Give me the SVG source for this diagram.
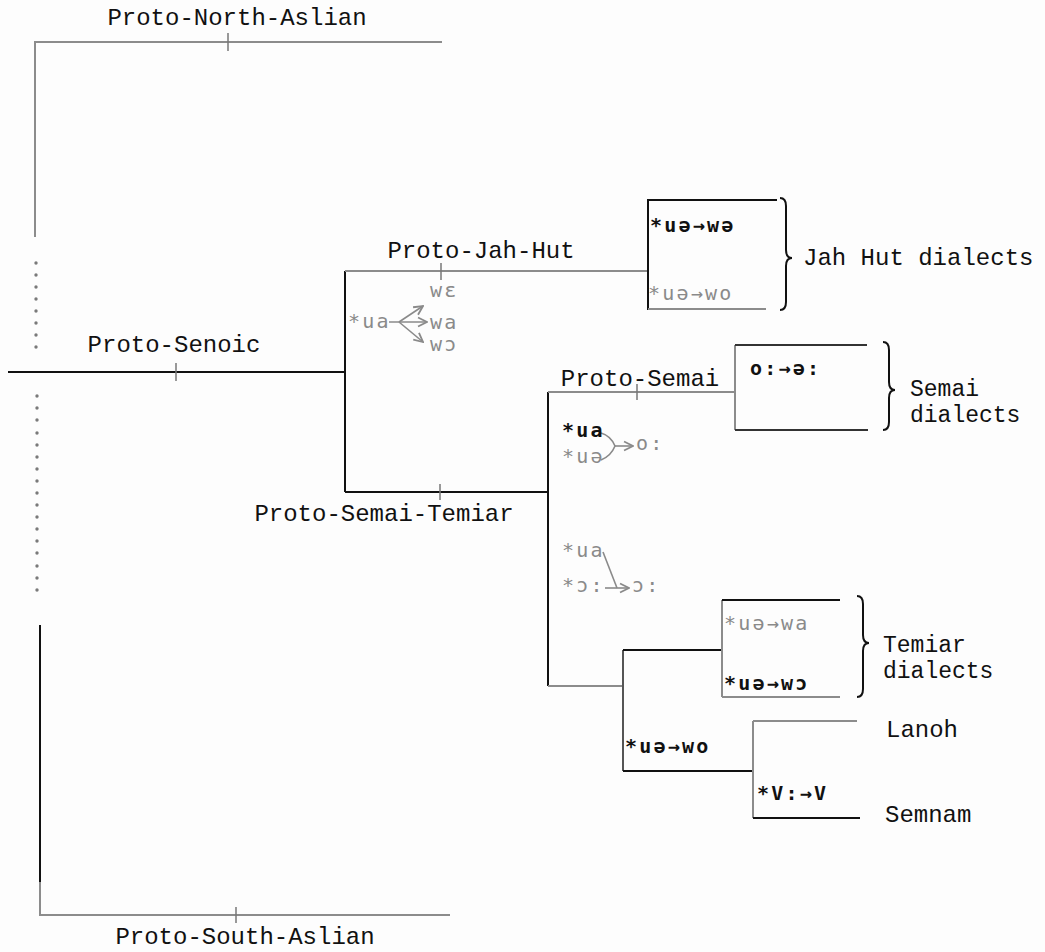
<svg xmlns="http://www.w3.org/2000/svg" width="1045" height="952" viewBox="0 0 1045 952">
<defs>
<style>
.lab{font-family:"Liberation Mono","Courier New",monospace;font-size:24px;fill:#111}
.lab2{font-family:"Liberation Mono","Courier New",monospace;font-size:23px;fill:#111}
.snd{font-family:"DejaVu Sans Mono","Liberation Mono",monospace;font-size:20px;letter-spacing:2.2px}
.b{fill:#111;font-weight:bold}
.g{fill:#8a8a8a}
.lk{stroke:#111;stroke-width:2;fill:none}
.lg{stroke:#8c8c8c;stroke-width:2;fill:none}
.tick{stroke:#777;stroke-width:1.5}
.dot{fill:#7a7a7a}
</style>
<marker id="ah" viewBox="0 0 10 10" refX="9" refY="5" markerWidth="7" markerHeight="7" orient="auto-start-reverse">
<path d="M1,1 L9,5 L1,9" fill="none" stroke="#8a8a8a" stroke-width="1.6"/>
</marker>
</defs>
<rect width="1045" height="952" fill="#fdfdfd"/>

<g id="connectors">
<path class="lg" d="M35,237 V42 H442"/>
<line class="tick" x1="228" y1="33" x2="228" y2="51"/>
<line class="lk" x1="8" y1="372" x2="345" y2="372"/>
<line class="tick" x1="176" y1="363" x2="176" y2="381"/>
<line class="lk" x1="40" y1="625" x2="40" y2="882"/>
<path class="lg" d="M40,882 V915 H450"/>
<line class="tick" x1="236" y1="907" x2="236" y2="923"/>
<line class="lk" x1="345" y1="271" x2="345" y2="492"/>
<line class="lg" x1="345" y1="271" x2="648" y2="271"/>
<line class="tick" x1="441" y1="263" x2="441" y2="280"/>
<line class="lk" x1="345" y1="492" x2="548" y2="492"/>
<line class="tick" x1="440" y1="484" x2="440" y2="500"/>
<path class="lk" d="M777,200 H648 V310"/>
<line class="lg" x1="648" y1="309" x2="766" y2="309"/>
<line class="lk" x1="548" y1="392" x2="548" y2="686"/>
<line class="lg" x1="548" y1="392" x2="735" y2="392"/>
<line class="tick" x1="637" y1="384" x2="637" y2="400"/>
<line class="lg" x1="735" y1="345" x2="735" y2="430"/>
<line class="lk" x1="735" y1="345" x2="867" y2="345" style="stroke:#333"/>
<line class="lk" x1="735" y1="430" x2="868" y2="430" style="stroke:#333"/>
<line class="lg" x1="548" y1="686" x2="623" y2="686"/>
<line class="lk" x1="623" y1="650" x2="623" y2="771" style="stroke:#555"/>
<line class="lk" x1="623" y1="650" x2="722" y2="650"/>
<line class="lg" x1="722" y1="600" x2="722" y2="697"/>
<line class="lk" x1="722" y1="600" x2="840" y2="600"/>
<line class="lg" x1="722" y1="697" x2="840" y2="697"/>
<line class="lk" x1="623" y1="771" x2="753" y2="771"/>
<line class="lg" x1="753" y1="721" x2="753" y2="818"/>
<line class="lg" x1="753" y1="721" x2="857" y2="721"/>
<line class="lk" x1="753" y1="818" x2="860" y2="818"/>
<path class="lk" stroke-width="1.8" d="M780,198 Q786,198 786,206 V250 Q786,258 792,258 Q786,258 786,266 V302 Q786,310 780,310"/>
<path class="lk" stroke-width="1.8" d="M883,342 Q889,342 889,350 V382 Q889,390 895,390 Q889,390 889,398 V422 Q889,430 883,430"/>
<path class="lk" stroke-width="1.8" d="M857,596 Q863,596 863,604 V635 Q863,643 869,643 Q863,643 863,651 V689 Q863,697 857,697"/>
<g stroke="#8a8a8a" stroke-width="1.6" fill="none">
<line x1="389" y1="322" x2="427" y2="322" marker-end="url(#ah)"/>
<line x1="399" y1="322" x2="423" y2="306" marker-end="url(#ah)"/>
<line x1="399" y1="322" x2="423" y2="342" marker-end="url(#ah)"/>
<path d="M601,433 Q611,436 615,446 Q611,456 601,460"/>
<line x1="615" y1="446" x2="633" y2="446" marker-end="url(#ah)"/>
<line x1="603" y1="552" x2="617" y2="588"/>
<line x1="605" y1="588" x2="629" y2="588" marker-end="url(#ah)"/>
</g>
</g>

<g id="dots">
<circle class="dot" cx="36" cy="263" r="1.7"/><circle class="dot" cx="36" cy="275" r="1.7"/><circle class="dot" cx="36" cy="287" r="1.7"/><circle class="dot" cx="36" cy="299" r="1.7"/><circle class="dot" cx="36" cy="311" r="1.7"/><circle class="dot" cx="36" cy="323" r="1.7"/><circle class="dot" cx="36" cy="335" r="1.7"/><circle class="dot" cx="36" cy="347" r="1.7"/>
<circle class="dot" cx="37" cy="396" r="1.7"/><circle class="dot" cx="37" cy="408" r="1.7"/><circle class="dot" cx="37" cy="420" r="1.7"/><circle class="dot" cx="37" cy="433" r="1.7"/><circle class="dot" cx="37" cy="445" r="1.7"/><circle class="dot" cx="37" cy="457" r="1.7"/><circle class="dot" cx="37" cy="469" r="1.7"/><circle class="dot" cx="37" cy="481" r="1.7"/><circle class="dot" cx="37" cy="493" r="1.7"/><circle class="dot" cx="37" cy="505" r="1.7"/><circle class="dot" cx="37" cy="517" r="1.7"/><circle class="dot" cx="37" cy="529" r="1.7"/><circle class="dot" cx="37" cy="541" r="1.7"/><circle class="dot" cx="37" cy="553" r="1.7"/><circle class="dot" cx="37" cy="566" r="1.7"/><circle class="dot" cx="37" cy="578" r="1.7"/><circle class="dot" cx="37" cy="590" r="1.7"/>
</g>

<g id="proto-north-aslian"><text class="lab" x="237" y="25" text-anchor="middle">Proto-North-Aslian</text></g>
<g id="proto-senoic"><text class="lab" x="174" y="352" text-anchor="middle">Proto-Senoic</text></g>
<g id="proto-south-aslian"><text class="lab" x="245" y="944" text-anchor="middle">Proto-South-Aslian</text></g>
<g id="proto-jah-hut"><text class="lab" x="481" y="258" text-anchor="middle">Proto-Jah-Hut</text>
<text class="snd g" x="348" y="328">*ua</text>
<text class="snd g" x="430" y="297">wɛ</text>
<text class="snd g" x="430" y="329">wa</text>
<text class="snd g" x="430" y="351">wɔ</text>
</g>
<g id="proto-semai-temiar"><text class="lab" x="384" y="521" text-anchor="middle">Proto-Semai-Temiar</text>
<text class="snd g" x="562" y="557">*ua</text>
<text class="snd g" x="562" y="592">*ɔ:</text>
<text class="snd g" x="632" y="592">ɔ:</text>
</g>
<g id="jah-hut-dialects">
<text class="snd b" x="650" y="232">*uə→wə</text>
<text class="snd g" x="648" y="300">*uə→wo</text>
<text class="lab" x="803" y="265">Jah Hut dialects</text>
</g>
<g id="proto-semai"><text class="lab" x="640" y="386" text-anchor="middle">Proto-Semai</text>
<text class="snd b" x="562" y="437">*ua</text>
<text class="snd g" x="562" y="463">*uə</text>
<text class="snd g" x="636" y="450">o:</text>
</g>
<g id="semai-dialects">
<text class="snd b" x="750" y="375">o:→ə:</text>
<text class="lab2" x="910" y="396">Semai</text>
<text class="lab2" x="910" y="422">dialects</text>
</g>
<g id="temiar-dialects">
<text class="snd g" x="724" y="630">*uə→wa</text>
<text class="snd b" x="724" y="690">*uə→wɔ</text>
<text class="lab2" x="883" y="652">Temiar</text>
<text class="lab2" x="883" y="678">dialects</text>
</g>
<g id="lanoh-semnam-node">
<text class="snd b" x="625" y="753">*uə→wo</text>
<text class="snd b" x="757" y="800">*V:→V</text>
</g>
<g id="lanoh"><text class="lab" x="886" y="737">Lanoh</text></g>
<g id="semnam"><text class="lab" x="885" y="822">Semnam</text></g>
</svg>
